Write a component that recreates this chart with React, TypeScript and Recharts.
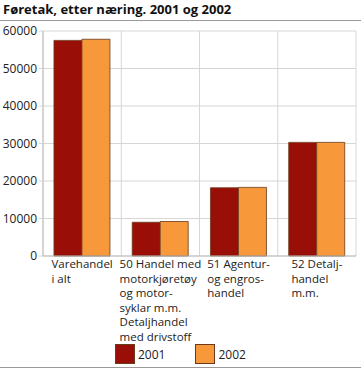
import { BarChart, Bar, XAxis, YAxis, CartesianGrid } from 'recharts';

const categories = [
  'Varehandel\ni alt',
  '50 Handel med\nmotorkjøretøy\nog motor-\nsyklar m.m.\nDetaljhandel\nmed drivstoff',
  '51 Agentur-\nog engros-\nhandel',
  '52 Detalj-\nhandel\nm.m.',
];
const values2001 = [57500, 9000, 18200, 30300];
const values2002 = [57800, 9200, 18300, 30300];
const yTicks = [0, 10000, 20000, 30000, 40000, 50000, 60000];

const series = [
  { key: 'y2001', name: '2001', color: '#990f08' },
  { key: 'y2002', name: '2002', color: '#f7993a' },
];

const data = categories.map((name, i) => ({
  name,
  y2001: values2001[i],
  y2002: values2002[i],
}));

const FONT = '"Open Sans", "DejaVu Sans", sans-serif';

function CategoryTick({ x, y, payload }: any) {
  const lines = String(payload.value).split('\n');
  return (
    <foreignObject x={x - 50} y={y - 7} width={100} height={100}>
      <div style={{ display: 'flex', justifyContent: 'center' }}>
        <div style={{ textAlign: 'left', fontFamily: FONT, fontSize: 11.5, lineHeight: '14.6px', color: '#222', whiteSpace: 'nowrap' }}>
          {lines.map((l, i) => (
            <div key={i}>{l}</div>
          ))}
        </div>
      </div>
    </foreignObject>
  );
}

export default function App() {
  return (
    <div style={{ position: 'absolute', left: 0, top: 0, width: 361, height: 371, background: '#fff', fontFamily: FONT }}>
      <div style={{ position: 'absolute', left: 3, top: 0, fontSize: 13, fontWeight: 700, color: '#111', lineHeight: '19px' }}>
        Føretak, etter næring. 2001 og 2002
      </div>
      <div style={{ position: 'absolute', left: 0, top: 20, width: 361, height: 1, background: '#9a9a9a' }} />
      <BarChart
        width={361}
        height={371}
        data={data}
        margin={{ top: 31, right: 5, bottom: 25, left: 0 }}
        barCategoryGap="14%"
        barGap={0}
        style={{ position: 'absolute', left: 0, top: 0 }}
      >
        <CartesianGrid
          stroke="#d6d6d6"
          verticalCoordinatesGenerator={({ offset }: any) =>
            categories.map((_, i) => offset.left + (i * offset.width) / categories.length).concat(offset.left + offset.width)
          }
        />
        <XAxis
          dataKey="name"
          interval={0}
          height={90}
          axisLine={{ stroke: '#bdbdbd' }}
          tickLine={false}
          tick={<CategoryTick />}
        />
        <YAxis
          width={43}
          domain={[0, 60000]}
          ticks={yTicks}
          interval={0}
          axisLine={{ stroke: '#bdbdbd' }}
          tickLine={{ stroke: '#d6d6d6' }}
          tickSize={4}
          tick={{ fontSize: 12, fill: '#222', fontFamily: FONT }}
        />
        {series.map((s) => (
          <Bar key={s.key} dataKey={s.key} name={s.name} fill={s.color} stroke="#6b3a1a" strokeWidth={0.8} isAnimationActive={false} />
        ))}
      </BarChart>
      <div style={{ position: 'absolute', left: 115, top: 344, display: 'flex', alignItems: 'center', fontSize: 12, color: '#222' }}>
        {series.map((s) => (
          <div key={s.key} style={{ display: 'flex', alignItems: 'center', marginRight: 30 }}>
            <div style={{ width: 18, height: 18, background: s.color, border: '1px solid #6b3a1a', marginRight: 3 }} />
            <span>{s.name}</span>
          </div>
        ))}
      </div>
      <div style={{ position: 'absolute', left: 0, top: 367, width: 361, height: 1, background: '#9a9a9a' }} />
    </div>
  );
}
